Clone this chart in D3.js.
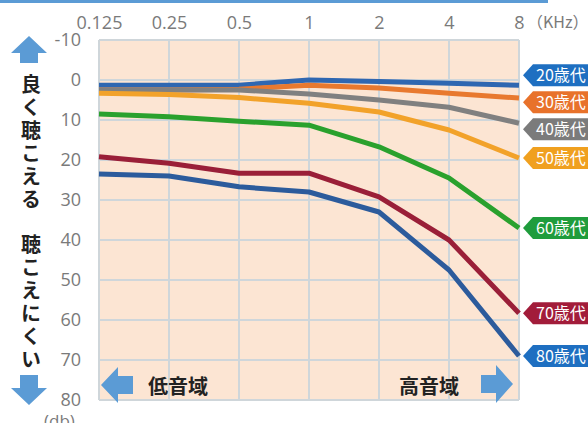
<!DOCTYPE html>
<html>
<head>
<meta charset="utf-8">
<script src="https://cdn.jsdelivr.net/npm/d3@7"></script>
<style>
  body { margin: 0; background: #fff; }
  svg { display: block; }
  .jp { font-family: "Noto Sans CJK JP", sans-serif; }
</style>
</head>
<body>
<div id="chart"></div>
<script>
// frequencies (kHz) and hearing level per age group (dB)
var freqs = [0.125, 0.25, 0.5, 1, 2, 4, 8];
var freqLabels = ["0.125", "0.25", "0.5", "1", "2", "4", "8"];
var dbTicks = [-10, 0, 10, 20, 30, 40, 50, 60, 70, 80];

var ages = ["20歳代", "30歳代", "40歳代", "50歳代", "60歳代", "70歳代", "80歳代"];
var lineColors = ["#2f67b1", "#e8792f", "#808080", "#f2a22a", "#2aa12d", "#9a1f38", "#2c5b9c"];
var tagColors  = ["#1e6fc1", "#e8722b", "#7b7b7b", "#f0a01f", "#1f9c3c", "#a21c3a", "#1e6fc1"];

var v20 = [1.3, 1.3, 1.3, 0, 0.4, 0.8, 1.3];
var v30 = [2.5, 2.5, 2.3, 1.3, 2, 3.3, 4.5];
var v40 = [2.5, 2.5, 2.5, 3.5, 5, 6.8, 10.8];
var v50 = [3.3, 3.6, 4.4, 5.8, 8, 12.5, 19.5];
var v60 = [8.5, 9.2, 10.3, 11.3, 16.7, 24.5, 37];
var v70 = [19.2, 20.8, 23.3, 23.3, 29.2, 40, 58.3];
var v80 = [23.5, 24, 26.7, 28, 33, 47.5, 69];
var series = [v20, v30, v40, v50, v60, v70, v80];

var W = 588, H = 423;
var svg = d3.select("#chart").append("svg").attr("width", W).attr("height", H);

var x = d3.scaleLog().base(2).domain([0.125, 8]).range([99, 519]);
var y = d3.scaleLinear().domain([-10, 80]).range([40, 400]);

// top blue band
svg.append("rect").attr("x", 0).attr("y", 0).attr("width", 548).attr("height", 3).attr("fill", "#5b9bd5");

// plot background
svg.append("rect")
    .attr("x", x.range()[0] - 1).attr("y", y.range()[0])
    .attr("width", x.range()[1] - x.range()[0] + 1)
    .attr("height", y.range()[1] - y.range()[0])
    .attr("fill", "#fce5d3");

// grid
var grid = svg.append("g");
grid.selectAll("line.h").data(dbTicks).enter().append("line")
    .attr("x1", x.range()[0]).attr("x2", x.range()[1])
    .attr("y1", function(d){ return y(d); }).attr("y2", function(d){ return y(d); })
    .attr("stroke", "#cfd6da").attr("stroke-width", 2);
grid.selectAll("line.v").data(freqs).enter().append("line")
    .attr("y1", y.range()[0]).attr("y2", y.range()[1])
    .attr("x1", function(d){ return x(d); }).attr("x2", function(d){ return x(d); })
    .attr("stroke", "#cfd6da").attr("stroke-width", 2);

// top axis
var xAxis = d3.axisTop(x).tickValues(freqs)
    .tickFormat(function(d, i){ return freqLabels[i]; }).tickSize(0).tickPadding(0);
var gx = svg.append("g").attr("transform", "translate(0,29)").call(xAxis);
gx.select(".domain").remove();
gx.selectAll("text").attr("fill", "#7a7a7a").attr("font-size", 18)
    .attr("font-family", "'Open Sans', sans-serif").attr("dy", 0);
svg.append("text").attr("class", "jp").attr("x", 527).attr("y", 28)
    .attr("fill", "#7a7a7a").attr("font-size", 16).text("（KHz）");

// left axis
var yAxis = d3.axisLeft(y).tickValues(dbTicks)
    .tickFormat(function(d){ return String(d); }).tickSize(0).tickPadding(0);
var gy = svg.append("g").attr("transform", "translate(81,0)").call(yAxis);
gy.select(".domain").remove();
gy.selectAll("text").attr("fill", "#7a7a7a").attr("font-size", 18)
    .attr("font-family", "'Open Sans', sans-serif");
svg.append("text").attr("x", 44).attr("y", 427).attr("fill", "#7a7a7a")
    .attr("font-size", 17).attr("font-family", "'Open Sans', sans-serif").text("(db)");

// lines
var line = d3.line()
    .x(function(d, i){ return x(freqs[i]); })
    .y(function(d){ return y(d); });
svg.append("g").selectAll("path").data(series).enter().append("path")
    .attr("d", line)
    .attr("fill", "none")
    .attr("stroke", function(d, i){ return lineColors[i]; })
    .attr("stroke-width", 5)
    .attr("stroke-linejoin", "round");

// label tags, pushed apart so they don't overlap
var tagY = series.map(function(s){ return y(s[s.length - 1]); });
for (var k = 0; k < 60; k++) {
    for (var i = 1; i < tagY.length; i++) {
        var gap = tagY[i] - tagY[i - 1];
        if (gap < 27) {
            var push = (27 - gap) / 2;
            tagY[i - 1] -= push;
            tagY[i] += push;
        }
    }
}
var tags = svg.append("g").selectAll("g").data(ages).enter().append("g")
    .attr("transform", function(d, i){ return "translate(523," + tagY[i] + ")"; });
tags.append("path")
    .attr("d", "M0,0 L10,-11 L70,-11 L70,11 L10,11 Z")
    .attr("fill", function(d, i){ return tagColors[i]; });
tags.append("text").attr("class", "jp")
    .attr("x", 13).attr("y", 6)
    .attr("fill", "#fff").attr("font-size", 16)
    .text(function(d){ return d; });

// side arrows and vertical captions
var arrowBlue = "#5b9bd5";
svg.append("path").attr("fill", arrowBlue)
    .attr("d", "M29,36 L47,53 L38,53 L38,63 L20,63 L20,53 L11,53 Z");
svg.append("path").attr("fill", arrowBlue)
    .attr("d", "M29,405 L47,388 L38,388 L38,375 L20,375 L20,388 L11,388 Z");

svg.append("text").attr("class", "jp")
    .attr("x", 31).attr("y", 74)
    .attr("writing-mode", "vertical-rl")
    .attr("letter-spacing", 3)
    .attr("font-size", 20).attr("font-weight", "bold")
    .attr("fill", "#222").text("良く聴こえる");
svg.append("text").attr("class", "jp")
    .attr("x", 31).attr("y", 234)
    .attr("writing-mode", "vertical-rl")
    .attr("letter-spacing", 3)
    .attr("font-size", 20).attr("font-weight", "bold")
    .attr("fill", "#222").text("聴こえにくい");

// bottom arrows: low / high range
svg.append("path").attr("fill", arrowBlue)
    .attr("d", "M101,385 L118,367 L118,376 L133,376 L133,394 L118,394 L118,403 Z");
svg.append("text").attr("class", "jp").attr("x", 148).attr("y", 394)
    .attr("font-size", 20).attr("font-weight", "bold").attr("fill", "#222").text("低音域");
svg.append("text").attr("class", "jp").attr("x", 399).attr("y", 394)
    .attr("font-size", 20).attr("font-weight", "bold").attr("fill", "#222").text("高音域");
svg.append("path").attr("fill", arrowBlue)
    .attr("d", "M513,384 L496,365 L496,375 L481,375 L481,393 L496,393 L496,403 Z");
</script>
</body>
</html>
